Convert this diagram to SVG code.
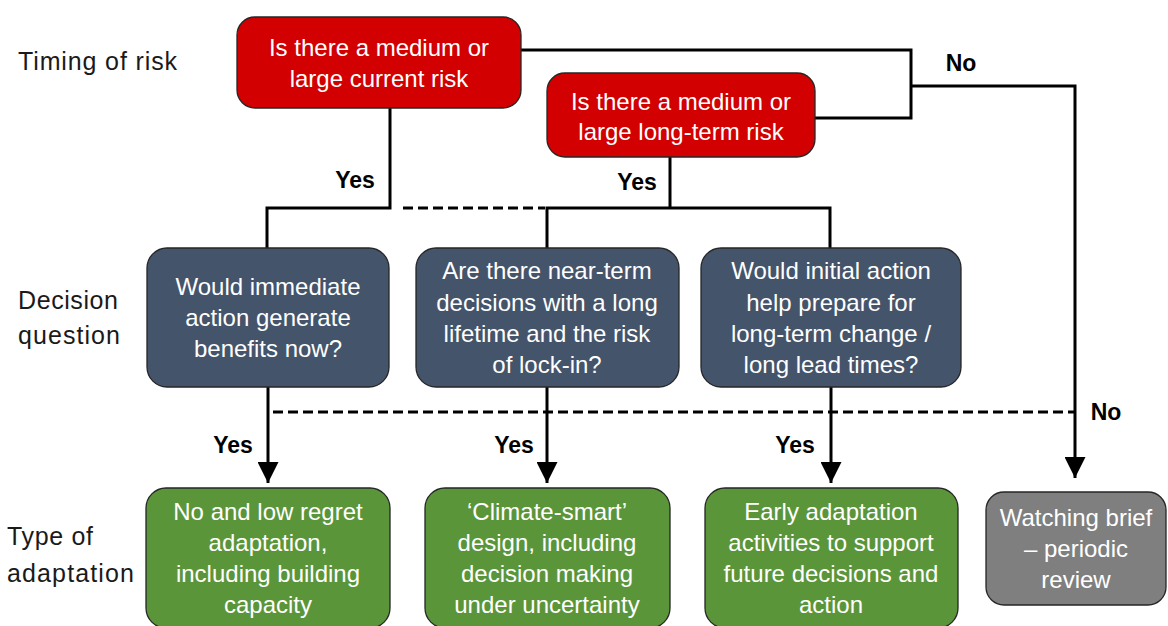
<svg xmlns="http://www.w3.org/2000/svg" width="1168" height="626" viewBox="0 0 1168 626">
<defs>
<style>
.box{stroke:#262626;stroke-width:1.3}
.red{fill:#d20000}
.dark{fill:#44546a}
.green{fill:#5b953a}
.gray{fill:#7f7f7f}
.bt{font-family:"Liberation Sans",Arial,sans-serif;font-size:24px;fill:#ffffff;text-anchor:middle}
.lab{font-family:"Liberation Sans",Arial,sans-serif;font-size:25px;fill:#1a1a1a}
.yn{font-family:"Liberation Sans",Arial,sans-serif;font-size:23px;font-weight:bold;fill:#000000;text-anchor:middle}
.ln{fill:none;stroke:#000000;stroke-width:3}
.dash{fill:none;stroke:#000000;stroke-width:3;stroke-dasharray:10 5}
</style>
<marker id="arr" markerUnits="userSpaceOnUse" markerWidth="21" markerHeight="21" refX="21" refY="10.5" orient="auto" viewBox="0 0 21 21">
<path d="M0,0 L21,10.5 L0,21 Z" fill="#000000"/>
</marker>
</defs>
<rect width="1168" height="626" fill="#ffffff"/>

<g id="row-labels">
<text class="lab" x="18" y="70" textLength="159" lengthAdjust="spacing">Timing of risk</text>
<text class="lab" x="18" y="309" textLength="100" lengthAdjust="spacing">Decision</text>
<text class="lab" x="18" y="344" textLength="102" lengthAdjust="spacing">question</text>
<text class="lab" x="7" y="545" textLength="86" lengthAdjust="spacing">Type of</text>
<text class="lab" x="7" y="582" textLength="127" lengthAdjust="spacing">adaptation</text>
</g>

<g id="connectors">
<path class="ln" d="M390,108 V208 H267 V248"/>
<path class="dash" d="M403,208 H545"/>
<path class="ln" d="M670,157 V208"/>
<path class="ln" d="M547,248 V208 H830 V248"/>
<path class="ln" d="M521,50 H911 V118 H815"/>
<path class="ln" d="M911,86 H1075 V478" marker-end="url(#arr)"/>
<path class="ln" d="M268,387 V483" marker-end="url(#arr)"/>
<path class="ln" d="M547,387 V483" marker-end="url(#arr)"/>
<path class="ln" d="M831,387 V483" marker-end="url(#arr)"/>
<path class="dash" d="M273,412 H1074"/>
<text class="yn" x="355" y="188">Yes</text>
<text class="yn" x="637" y="190">Yes</text>
<text class="yn" x="961" y="71">No</text>
<text class="yn" x="233" y="453">Yes</text>
<text class="yn" x="514" y="453">Yes</text>
<text class="yn" x="795" y="453">Yes</text>
<text class="yn" x="1106" y="420">No</text>
</g>

<g id="current-risk">
<rect class="box red" x="237" y="17" width="284" height="91" rx="18"/>
<text class="bt" x="379" y="56">Is there a medium or</text>
<text class="bt" x="379" y="87">large current risk</text>
</g>

<g id="longterm-risk">
<rect class="box red" x="547" y="73" width="268" height="84" rx="18"/>
<text class="bt" x="681" y="110">Is there a medium or</text>
<text class="bt" x="681" y="140">large long-term risk</text>
</g>

<g id="q-immediate">
<rect class="box dark" x="147" y="248" width="242" height="139" rx="20"/>
<text class="bt" x="268" y="295">Would immediate</text>
<text class="bt" x="268" y="326">action generate</text>
<text class="bt" x="268" y="357">benefits now?</text>
</g>

<g id="q-lockin">
<rect class="box dark" x="416" y="248" width="263" height="139" rx="20"/>
<text class="bt" x="547" y="279">Are there near-term</text>
<text class="bt" x="547" y="311">decisions with a long</text>
<text class="bt" x="547" y="342">lifetime and the risk</text>
<text class="bt" x="547" y="373">of lock-in?</text>
</g>

<g id="q-prepare">
<rect class="box dark" x="701" y="248" width="260" height="139" rx="20"/>
<text class="bt" x="831" y="279">Would initial action</text>
<text class="bt" x="831" y="311">help prepare for</text>
<text class="bt" x="831" y="342">long-term change /</text>
<text class="bt" x="831" y="373">long lead times?</text>
</g>

<g id="a-noregret">
<rect class="box green" x="146" y="488" width="244" height="140" rx="20"/>
<text class="bt" x="268" y="520">No and low regret</text>
<text class="bt" x="268" y="551">adaptation,</text>
<text class="bt" x="268" y="582">including building</text>
<text class="bt" x="268" y="613">capacity</text>
</g>

<g id="a-climatesmart">
<rect class="box green" x="425" y="488" width="245" height="140" rx="20"/>
<text class="bt" x="547" y="520">‘Climate-smart’</text>
<text class="bt" x="547" y="551">design, including</text>
<text class="bt" x="547" y="582">decision making</text>
<text class="bt" x="547" y="613">under uncertainty</text>
</g>

<g id="a-early">
<rect class="box green" x="705" y="488" width="253" height="140" rx="20"/>
<text class="bt" x="831" y="520">Early adaptation</text>
<text class="bt" x="831" y="551">activities to support</text>
<text class="bt" x="831" y="582">future decisions and</text>
<text class="bt" x="831" y="613">action</text>
</g>

<g id="a-watching">
<rect class="box gray" x="986" y="492" width="180" height="113" rx="18"/>
<text class="bt" x="1076" y="526">Watching brief</text>
<text class="bt" x="1076" y="557">– periodic</text>
<text class="bt" x="1076" y="588">review</text>
</g>
</svg>
